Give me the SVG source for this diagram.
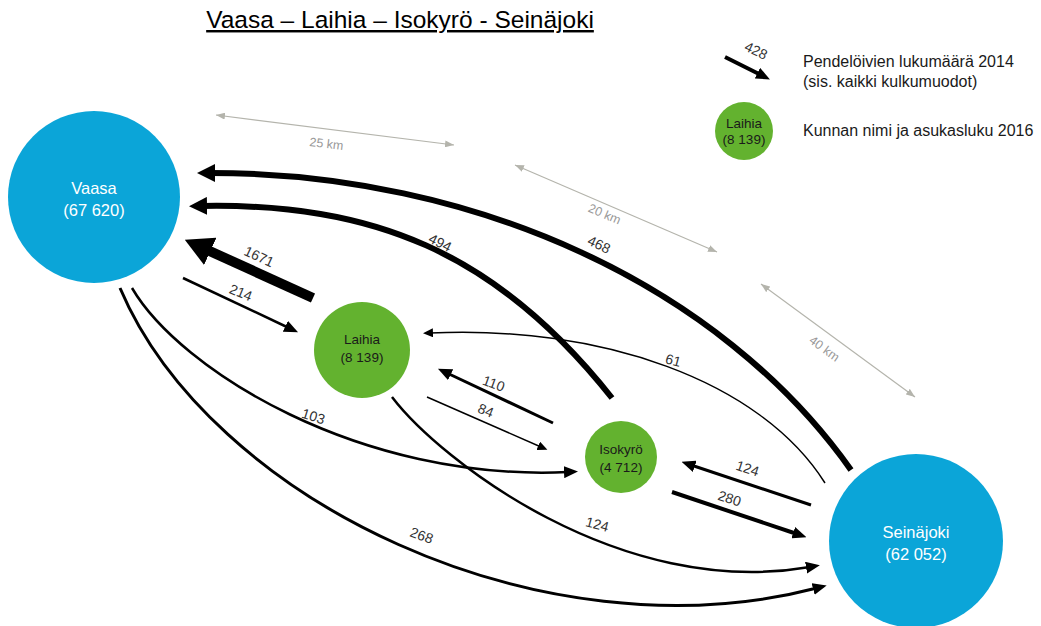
<svg xmlns="http://www.w3.org/2000/svg" width="1041" height="626" viewBox="0 0 1041 626">
<style>
  .t{font-family:"Liberation Sans",Arial,sans-serif}
  .blue{fill:#0BA5D8}
  .green{fill:#63B22F}
  .wl{font-family:"Liberation Sans",Arial,sans-serif;fill:#fff;font-size:16.5px;text-anchor:middle}
  .gl{font-family:"Liberation Sans",Arial,sans-serif;fill:#1a1a1a;font-size:13.5px;text-anchor:middle}
  .el{font-family:"Liberation Sans",Arial,sans-serif;fill:#333;font-size:14px;text-anchor:middle}
  .dl{font-family:"Liberation Sans",Arial,sans-serif;fill:#999;font-size:12.5px;text-anchor:middle}
  .c{fill:none;stroke:#000}
  .d{fill:none;stroke:#B4B4AC;stroke-width:1.2}
</style>
<defs>
  <marker id="mS" markerUnits="userSpaceOnUse" markerWidth="10" markerHeight="9" refX="3" refY="4.5" orient="auto" viewBox="0 0 10 9"><path d="M0,0 L10,4.5 L0,9 z" fill="#000"/></marker>
  <marker id="mM" markerUnits="userSpaceOnUse" markerWidth="14" markerHeight="12" refX="4" refY="6" orient="auto" viewBox="0 0 14 12"><path d="M0,0 L14,6 L0,12 z" fill="#000"/></marker>
  <marker id="mL" markerUnits="userSpaceOnUse" markerWidth="18" markerHeight="18" refX="5" refY="9" orient="auto" viewBox="0 0 18 18"><path d="M0,0 L18,9 L0,18 z" fill="#000"/></marker>
  <marker id="mX" markerUnits="userSpaceOnUse" markerWidth="28" markerHeight="30" refX="8" refY="15" orient="auto" viewBox="0 0 28 30"><path d="M0,0 L28,15 L0,30 z" fill="#000"/></marker>
  <marker id="mG" markerUnits="userSpaceOnUse" markerWidth="9" markerHeight="7" refX="9" refY="3.5" orient="auto-start-reverse" viewBox="0 0 9 7"><path d="M0,0 L9,3.5 L0,7 z" fill="#B4B4AC"/></marker>
</defs>

<text class="t" x="400" y="28" font-size="24.5" text-anchor="middle" fill="#000" text-decoration="underline">Vaasa – Laihia – Isokyrö - Seinäjoki</text>

<g id="distances">
  <path class="d" d="M216,115 L454,145" marker-start="url(#mG)" marker-end="url(#mG)"/>
  <text class="dl" transform="translate(326,148) rotate(7)">25 km</text>
  <path class="d" d="M515,165 L717,252" marker-start="url(#mG)" marker-end="url(#mG)"/>
  <text class="dl" transform="translate(603,218) rotate(23)">20 km</text>
  <path class="d" d="M761,284 L915,397" marker-start="url(#mG)" marker-end="url(#mG)"/>
  <text class="dl" transform="translate(822,352) rotate(36)">40 km</text>
</g>

<g id="connectors">
  <path class="c" stroke-width="6" d="M851,470 C 720,285 475,173 210,173" marker-end="url(#mL)"/>
  <path class="c" stroke-width="6" d="M612,398 C 495,250 370,203 202,206" marker-end="url(#mL)"/>
  <path class="c" stroke-width="10" d="M313,298 L203,248" marker-end="url(#mX)"/>
  <path class="c" stroke-width="2.5" d="M183,278 L289,328" marker-end="url(#mM)"/>
  <path class="c" stroke-width="2.5" d="M132,288 C 180,370 360,482 568,472" marker-end="url(#mM)"/>
  <path class="c" stroke-width="3" d="M120,288 C 210,500 540,660 817,588" marker-end="url(#mM)"/>
  <path class="c" stroke-width="2.5" d="M392,397 C 440,460 620,600 810,567" marker-end="url(#mM)"/>
  <path class="c" stroke-width="1.5" d="M825,483 C 760,380 600,325 430,333" marker-end="url(#mS)"/>
  <path class="c" stroke-width="3" d="M553,423 L447,373" marker-end="url(#mM)"/>
  <path class="c" stroke-width="1.5" d="M427,397 L541,447" marker-end="url(#mS)"/>
  <path class="c" stroke-width="3" d="M811,505 L691,465" marker-end="url(#mM)"/>
  <path class="c" stroke-width="4" d="M672,492 L797,534" marker-end="url(#mM)"/>

  <text class="el" transform="translate(257,261) rotate(25)">1671</text>
  <text class="el" transform="translate(239,297) rotate(22)">214</text>
  <text class="el" transform="translate(438,247) rotate(27)">494</text>
  <text class="el" transform="translate(597,249) rotate(25)">468</text>
  <text class="el" transform="translate(672,365) rotate(15)">61</text>
  <text class="el" transform="translate(492,388) rotate(20)">110</text>
  <text class="el" transform="translate(484,415) rotate(22)">84</text>
  <text class="el" transform="translate(312,421) rotate(17)">103</text>
  <text class="el" transform="translate(596,529) rotate(15)">124</text>
  <text class="el" transform="translate(746,473) rotate(18)">124</text>
  <text class="el" transform="translate(728,503) rotate(18)">280</text>
  <text class="el" transform="translate(420,540) rotate(20)">268</text>
</g>

<g id="vaasa">
  <circle class="blue" cx="94" cy="197" r="86"/>
  <text class="wl" x="94" y="194">Vaasa</text>
  <text class="wl" x="94" y="216">(67 620)</text>
</g>
<g id="laihia">
  <circle class="green" cx="362" cy="350" r="48"/>
  <text class="gl" x="362" y="344">Laihia</text>
  <text class="gl" x="362" y="362">(8 139)</text>
</g>
<g id="isokyro">
  <circle class="green" cx="621" cy="457" r="36"/>
  <text class="gl" x="621" y="454">Isokyrö</text>
  <text class="gl" x="621" y="472">(4 712)</text>
</g>
<g id="seinajoki">
  <circle class="blue" cx="916" cy="541" r="87"/>
  <text class="wl" x="916" y="538">Seinäjoki</text>
  <text class="wl" x="916" y="560">(62 052)</text>
</g>

<g id="legend">
  <path class="c" stroke-width="4" d="M725,57 L761,75" marker-end="url(#mM)"/>
  <text class="el" transform="translate(754,55) rotate(25)">428</text>
  <text class="t" x="803" y="67" font-size="16" fill="#1a1a1a">Pendelöivien lukumäärä 2014</text>
  <text class="t" x="803" y="87" font-size="16" fill="#1a1a1a">(sis. kaikki kulkumuodot)</text>
  <circle class="green" cx="744" cy="131" r="29"/>
  <text class="gl" x="744" y="128" font-size="12">Laihia</text>
  <text class="gl" x="744" y="144" font-size="12">(8 139)</text>
  <text class="t" x="803" y="136" font-size="16" fill="#1a1a1a">Kunnan nimi ja asukasluku 2016</text>
</g>
</svg>
